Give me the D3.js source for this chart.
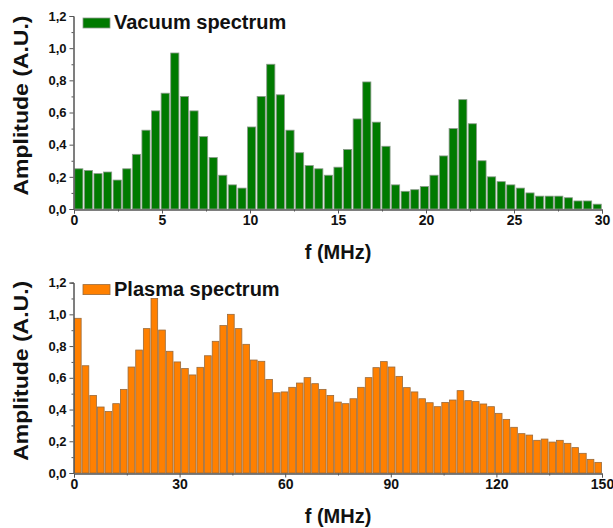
<!DOCTYPE html>
<html>
<head>
<meta charset="utf-8">
<script src="https://cdn.jsdelivr.net/npm/d3@7/dist/d3.min.js"></script>
<style>
  html, body { margin: 0; padding: 0; background: #fff; }
  svg { display: block; }
  text { font-family: "Liberation Sans", Arial, sans-serif; font-weight: bold; fill: #111; }
</style>
</head>
<body>
<svg id="chart" width="613" height="528"></svg>
<script>
// ---- data ----
const vacuumValues = [
  0.25, 0.24, 0.22, 0.23, 0.18, 0.25, 0.34, 0.49, 0.61, 0.72,
  0.97, 0.70, 0.61, 0.45, 0.32, 0.21, 0.15, 0.13, 0.51, 0.70,
  0.90, 0.71, 0.49, 0.35, 0.27, 0.25, 0.21, 0.26, 0.37, 0.56,
  0.79, 0.54, 0.39, 0.15, 0.11, 0.12, 0.14, 0.21, 0.33, 0.50,
  0.68, 0.53, 0.30, 0.20, 0.17, 0.15, 0.13, 0.10, 0.08, 0.08,
  0.08, 0.07, 0.05, 0.05, 0.03
];
const plasmaValues = [
  0.975, 0.676, 0.489, 0.416, 0.387, 0.437, 0.527, 0.668, 0.775, 0.910,
  1.10, 0.901, 0.767, 0.700, 0.658, 0.618, 0.666, 0.739, 0.830, 0.929,
  1.00, 0.910, 0.811, 0.712, 0.704, 0.590, 0.506, 0.511, 0.540, 0.567,
  0.601, 0.563, 0.527, 0.489, 0.447, 0.437, 0.468, 0.540, 0.601, 0.664,
  0.702, 0.668, 0.609, 0.538, 0.511, 0.468, 0.443, 0.418, 0.445, 0.460,
  0.519, 0.456, 0.450, 0.435, 0.418, 0.376, 0.338, 0.288, 0.248, 0.239,
  0.206, 0.214, 0.195, 0.206, 0.187, 0.160, 0.124, 0.086, 0.067
];
const vacuumXTicks = [0, 5, 10, 15, 20, 25, 30];
const vacuumXMinor = [2.5, 7.5, 12.5, 17.5, 22.5, 27.5];
const plasmaXTicks = [0, 30, 60, 90, 120, 150];
const plasmaXMinor = [15, 45, 75, 105, 135];
const yTicks = [0, 0.2, 0.4, 0.6, 0.8, 1.0, 1.2];
const yMinor = [0.1, 0.3, 0.5, 0.7, 0.9, 1.1];
const xTitle = "f (MHz)";
const yTitle = "Amplitude (A.U.)";

const svg = d3.select("#chart");
const fmt = v => d3.format(".1f")(v).replace(".", ",");

function panel(cfg) {
  const g = svg.append("g");
  const x = d3.scaleLinear().domain([0, cfg.xMax]).range([74, 602]);
  const y = d3.scaleLinear().domain([0, 1.2]).range([cfg.yBottom, cfg.yTop]);
  const band = d3.scaleBand()
    .domain(d3.range(cfg.values.length))
    .range([x(0), x(cfg.xMax)])
    .paddingInner(cfg.pad).paddingOuter(cfg.pad / 2);

  g.selectAll("rect.bar").data(cfg.values).join("rect")
    .attr("class", "bar")
    .attr("x", (d, i) => band(i))
    .attr("width", band.bandwidth())
    .attr("y", d => y(d))
    .attr("height", d => y(0) - y(d))
    .attr("fill", cfg.fill)
    .attr("stroke", cfg.stroke)
    .attr("stroke-width", 0.8);

  // y axis
  const ya = g.append("g").attr("transform", `translate(${x(0) - 0.5},0)`)
    .call(d3.axisLeft(y).tickValues(yTicks).tickFormat(fmt).tickSize(4).tickPadding(3));
  ya.append("g").call(d3.axisLeft(y).tickValues(yMinor).tickFormat("").tickSize(2));
  ya.selectAll("path.domain").attr("stroke", "#555");
  ya.selectAll(".tick line").attr("stroke", "#555");
  ya.selectAll("text").style("font-size", "13px").style("font-family", "Liberation Sans, Arial, sans-serif").style("font-weight", "bold").attr("fill", "#111");

  // x axis
  const xa = g.append("g").attr("transform", `translate(0,${y(0) + 0.5})`)
    .call(d3.axisBottom(x).tickValues(cfg.xTicks).tickFormat(d3.format("d")).tickSize(4).tickPadding(2));
  xa.append("g").call(d3.axisBottom(x).tickValues(cfg.xMinor).tickFormat("").tickSize(2));
  xa.selectAll("path.domain").attr("stroke", "#555");
  xa.selectAll(".tick line").attr("stroke", "#555");
  xa.selectAll("text").style("font-size", "14px").style("font-family", "Liberation Sans, Arial, sans-serif").style("font-weight", "bold").attr("fill", "#111");

  // x title
  g.append("text")
    .attr("x", (x(0) + x(cfg.xMax)) / 2)
    .attr("y", y(0) + 50)
    .attr("text-anchor", "middle")
    .style("font-size", "20px")
    .text(xTitle);

  // y title
  g.append("text")
    .attr("transform", `translate(28,${(cfg.yTop + cfg.yBottom) / 2 - 7}) rotate(-90)`)
    .attr("text-anchor", "middle")
    .attr("textLength", 180)
    .attr("lengthAdjust", "spacingAndGlyphs")
    .style("font-size", "21px")
    .text(yTitle);

  // legend
  g.append("rect")
    .attr("x", 83).attr("y", cfg.yTop + 2)
    .attr("width", 27).attr("height", 10)
    .attr("fill", cfg.fill).attr("stroke", cfg.stroke).attr("stroke-width", 0.8);
  g.append("text")
    .attr("x", 114).attr("y", cfg.yTop + 13)
    .style("font-size", "20px")
    .text(cfg.label);
}

panel({
  values: vacuumValues, xMax: 30, xTicks: vacuumXTicks, xMinor: vacuumXMinor,
  yTop: 16, yBottom: 209, pad: 0.15,
  fill: "#007a00", stroke: "#8a9a8a", label: "Vacuum spectrum"
});
panel({
  values: plasmaValues, xMax: 150, xTicks: plasmaXTicks, xMinor: plasmaXMinor,
  yTop: 282.6, yBottom: 473, pad: 0.13,
  fill: "#ff8000", stroke: "#9a6a3a", label: "Plasma spectrum"
});
</script>
</body>
</html>
